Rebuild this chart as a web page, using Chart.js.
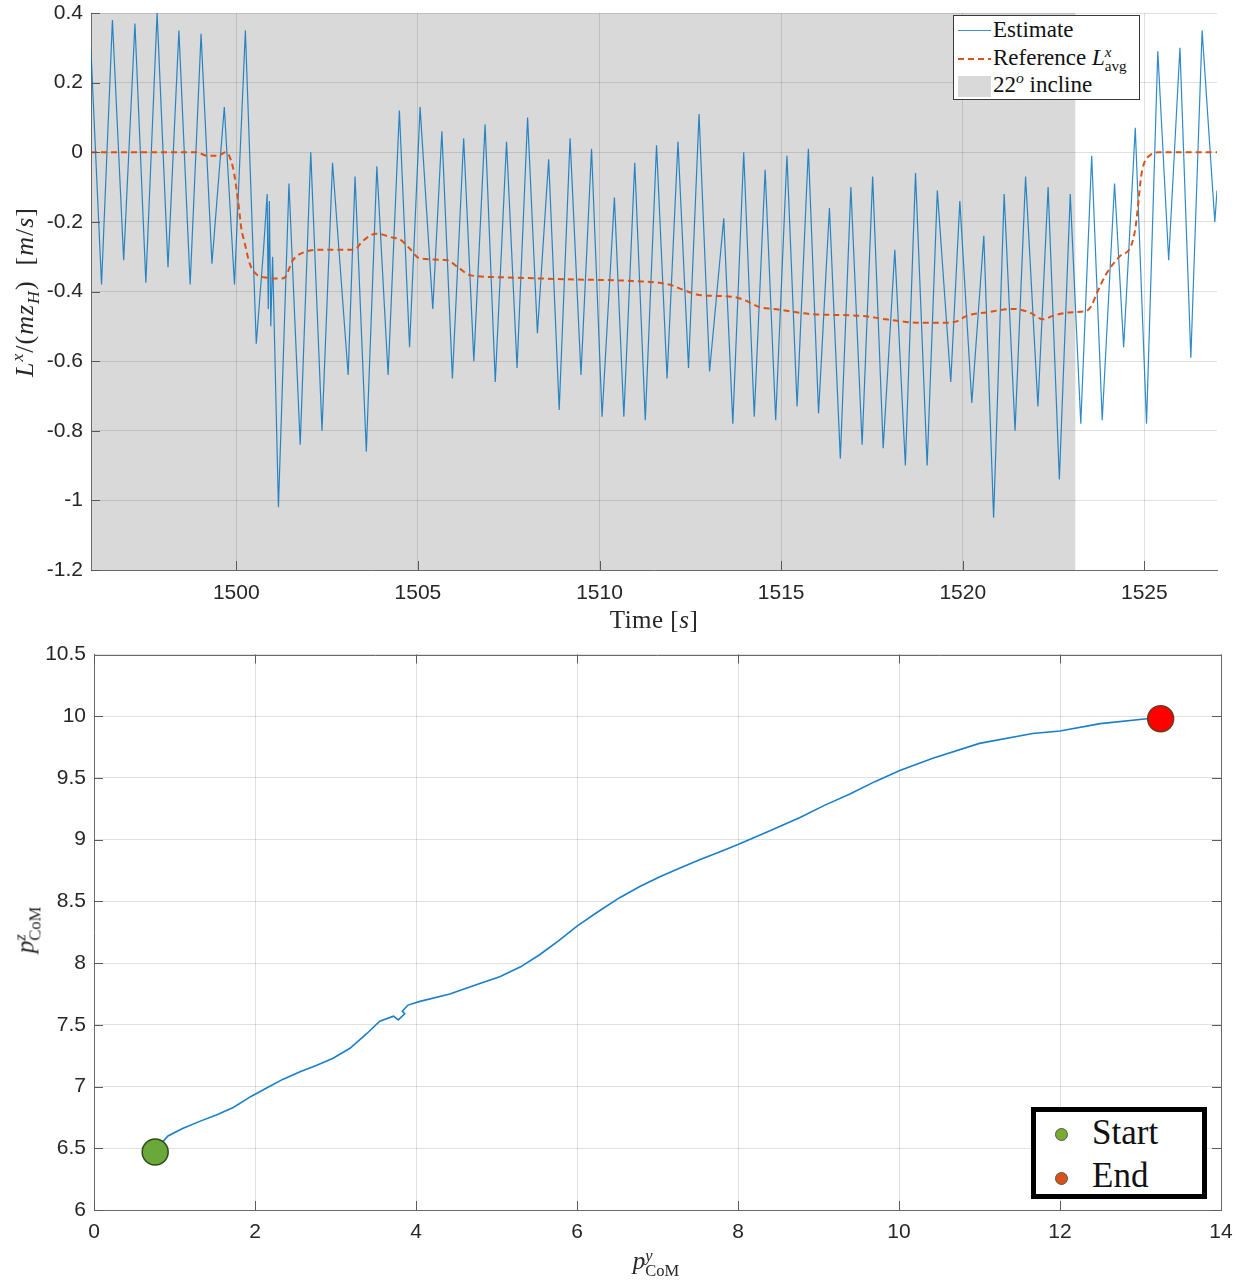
<!DOCTYPE html>
<html>
<head>
<meta charset="utf-8">
<script src="https://cdn.jsdelivr.net/npm/chart.js@4.4.1/dist/chart.umd.min.js"></script>
<style>
  body { margin: 0; background: #fff; }
  #wrap { position: relative; width: 1244px; height: 1282px; overflow: hidden; }
  canvas { position: absolute; left: 0; }
  .tx { position: absolute; font-family: "Liberation Serif", "DejaVu Serif", serif; color: #262626; white-space: nowrap; }
  .rot { transform: translate(-50%, -50%) rotate(-90deg); }
  .ctr { transform: translate(-50%, -50%); }
  sup, sub { line-height: 0; font-size: 0.68em; }
  .ss { display: inline-block; vertical-align: -0.42em; line-height: 0.92; font-size: 0.66em; }
  .ss span { display: block; }
  .leg1 { position: absolute; left: 953px; top: 15px; width: 185px; height: 83px; border: 1px solid #3a3a3a; background: #fff; }
  .leg1 .row { position: absolute; left: 0; height: 26px; line-height: 26px; font-family: "Liberation Serif", "DejaVu Serif", serif; font-size: 23px; color: #111; }
  .leg1 .row span.t { position: absolute; left: 39px; white-space: nowrap; }
  .leg2 { position: absolute; left: 1031px; top: 1107px; width: 166px; height: 82px; border: 5px solid #000; background: #fff; }
  .leg2 .dot { position: absolute; left: 19px; width: 11px; height: 11px; border-radius: 50%; border: 1px solid #555; }
  .leg2 .t { position: absolute; left: 56px; font-family: "Liberation Serif", "DejaVu Serif", serif; font-size: 35px; line-height: 40px; color: #111; }
</style>
</head>
<body>
<div id="wrap">
  <canvas id="top" width="1244" height="640" style="top:0"></canvas>
  <canvas id="bottom" width="1244" height="642" style="top:640px"></canvas>

  <div class="tx rot" style="left:25px; top:292px; font-size:26px; letter-spacing:1px;"><i>L</i><sup><i>x</i></sup>/(<i>mz</i><sub><i>H</i></sub>)&nbsp;&nbsp;[<i>m</i>/<i>s</i>]</div>
  <div class="tx ctr" style="left:654px; top:620px; font-size:25px; letter-spacing:0.5px;">Time [<i>s</i>]</div>
  <div class="tx rot" style="left:27px; top:930px; font-size:25px;"><i>p</i><span class="ss"><span><i>z</i></span><span>CoM</span></span></div>
  <div class="tx ctr" style="left:656px; top:1263px; font-size:25px;"><i>p</i><span class="ss"><span><i>y</i></span><span>CoM</span></span></div>

  <div class="leg1">
    <div class="row" style="top:1px; width:100%;">
      <span style="position:absolute; left:4px; top:13px; width:33px; height:1px; background:#3d8fd0;"></span>
      <span class="t">Estimate</span>
    </div>
    <div class="row" style="top:29px; width:100%;">
      <span style="position:absolute; left:4px; top:13px; width:33px; height:2px; background:repeating-linear-gradient(90deg,#D95319 0 6px,transparent 6px 10px);"></span>
      <span class="t">Reference <i>L</i><span class="ss"><span><i>x</i></span><span>avg</span></span></span>
    </div>
    <div class="row" style="top:56px; width:100%;">
      <span style="position:absolute; left:4px; top:4px; width:33px; height:21px; background:#d9d9d9;"></span>
      <span class="t">22<sup><i>o</i></sup> incline</span>
    </div>
  </div>

  <div class="leg2">
    <div class="dot" style="top:16px; background:#77AC30;"></div>
    <div class="t" style="top:1px;">Start</div>
    <div class="dot" style="top:60px; background:#D95319;"></div>
    <div class="t" style="top:44px;">End</div>
  </div>
</div>

<script>
// ---- top panel: angular momentum estimate vs reference ----
const timeTicks = [1500, 1505, 1510, 1515, 1520, 1525];
const lxTicks = [0.4, 0.2, 0, -0.2, -0.4, -0.6, -0.8, -1, -1.2];
const inclineSpan = [1496, 1523.1];

const estTime = [1496.00, 1496.29, 1496.59, 1496.90, 1497.21, 1497.51, 1497.82, 1498.12, 1498.42, 1498.73,
  1499.03, 1499.33, 1499.67, 1499.95, 1500.25, 1500.55, 1500.75, 1500.85, 1500.88, 1500.91,
  1500.95, 1501.00, 1501.16, 1501.45, 1501.76, 1502.05, 1502.36, 1502.65, 1503.08, 1503.27,
  1503.58, 1503.87, 1504.18, 1504.49, 1504.77, 1505.06, 1505.41, 1505.66, 1505.95, 1506.26,
  1506.54, 1506.85, 1507.13, 1507.44, 1507.73, 1508.02, 1508.29, 1508.60, 1508.89, 1509.19,
  1509.49, 1509.78, 1510.07, 1510.41, 1510.67, 1510.97, 1511.26, 1511.57, 1511.86, 1512.16,
  1512.45, 1512.74, 1513.03, 1513.42, 1513.67, 1513.97, 1514.26, 1514.56, 1514.85, 1515.16,
  1515.44, 1515.75, 1516.03, 1516.33, 1516.63, 1516.92, 1517.23, 1517.52, 1517.81, 1518.13,
  1518.42, 1518.70, 1519.02, 1519.30, 1519.67, 1519.92, 1520.25, 1520.58, 1520.85, 1521.14,
  1521.44, 1521.73, 1522.07, 1522.35, 1522.66, 1522.96, 1523.25, 1523.55, 1523.84, 1524.18,
  1524.43, 1524.75, 1525.06, 1525.37, 1525.67, 1525.98, 1526.28, 1526.59, 1526.94, 1527.00];
const estValue = [0.29, -0.38, 0.38, -0.31, 0.37, -0.375, 0.40, -0.33, 0.35, -0.38,
  0.34, -0.32, 0.13, -0.38, 0.35, -0.55, -0.28, -0.12, -0.45, -0.14,
  -0.50, -0.30, -1.02, -0.09, -0.84, 0.00, -0.80, -0.03, -0.64, -0.07,
  -0.86, -0.04, -0.64, 0.12, -0.56, 0.13, -0.45, 0.06, -0.65, 0.04,
  -0.60, 0.08, -0.66, 0.03, -0.62, 0.10, -0.52, -0.02, -0.74, 0.04,
  -0.64, 0.01, -0.76, -0.13, -0.76, -0.03, -0.77, 0.02, -0.65, 0.03,
  -0.62, 0.11, -0.63, -0.19, -0.78, 0.00, -0.76, -0.05, -0.77, -0.01,
  -0.73, 0.01, -0.75, -0.16, -0.88, -0.10, -0.84, -0.07, -0.85, -0.28,
  -0.90, -0.06, -0.90, -0.11, -0.66, -0.14, -0.72, -0.24, -1.05, -0.12,
  -0.80, -0.07, -0.73, -0.10, -0.94, -0.12, -0.78, -0.01, -0.77, -0.09,
  -0.56, 0.07, -0.78, 0.29, -0.31, 0.30, -0.59, 0.35, -0.20, -0.11];

const refTime = [1496.0, 1498.9, 1499.2, 1499.5, 1499.7, 1499.9, 1500.05, 1500.14, 1500.23, 1500.37,
  1500.55, 1500.82, 1501.19, 1501.33, 1501.56, 1501.92, 1502.29, 1502.84, 1503.25, 1503.48,
  1503.85, 1504.3, 1504.5, 1504.76, 1505.05, 1505.8, 1506.1, 1506.43, 1507.25, 1509.1,
  1510.9, 1511.92, 1512.3, 1512.75, 1513.65, 1514.0, 1514.4, 1514.8, 1515.85, 1517.2,
  1517.9, 1518.8, 1519.55, 1519.85, 1520.1, 1520.65, 1521.38, 1521.84, 1522.21, 1522.48,
  1522.94, 1523.4, 1523.55, 1523.67, 1523.95, 1524.31, 1524.63, 1524.75, 1524.82, 1524.91,
  1525.0, 1525.14, 1525.41, 1527.0];
const refValue = [0, 0, -0.01, -0.01, 0, -0.04, -0.14, -0.22, -0.26, -0.32,
  -0.35, -0.36, -0.363, -0.36, -0.31, -0.285, -0.28, -0.28, -0.28, -0.255,
  -0.234, -0.245, -0.25, -0.275, -0.305, -0.31, -0.33, -0.353, -0.359, -0.365,
  -0.37, -0.38, -0.395, -0.41, -0.415, -0.425, -0.445, -0.45, -0.465, -0.47,
  -0.48, -0.49, -0.49, -0.485, -0.47, -0.46, -0.45, -0.46, -0.48, -0.47,
  -0.46, -0.456, -0.44, -0.41, -0.35, -0.30, -0.27, -0.22, -0.16, -0.07,
  -0.03, -0.01, 0, 0];

// ---- bottom panel: CoM path ----
const comTicksY = [0, 2, 4, 6, 8, 10, 12, 14];
const comTicksZ = [6, 6.5, 7, 7.5, 8, 8.5, 9, 9.5, 10, 10.5];
const comY = [0.85, 0.92, 1.10, 1.32, 1.52, 1.73, 1.95, 2.15, 2.35, 2.56,
  2.76, 2.97, 3.18, 3.39, 3.55, 3.72, 3.78, 3.86, 3.83, 3.90,
  4.05, 4.42, 4.73, 5.04, 5.30, 5.54, 5.77, 6.00, 6.27, 6.53,
  6.78, 7.03, 7.28, 7.53, 7.77, 8.00, 8.39, 8.77, 9.08, 9.39,
  9.70, 10.01, 10.42, 11.00, 11.66, 12.00, 12.50, 13.08, 13.20];
const comZ = [6.55, 6.60, 6.66, 6.72, 6.77, 6.83, 6.92, 6.99, 7.06, 7.12,
  7.17, 7.23, 7.31, 7.43, 7.53, 7.57, 7.54, 7.59, 7.61, 7.66,
  7.69, 7.75, 7.82, 7.89, 7.97, 8.07, 8.18, 8.30, 8.42, 8.53,
  8.62, 8.70, 8.77, 8.84, 8.90, 8.96, 9.07, 9.18, 9.28, 9.37,
  9.47, 9.56, 9.66, 9.78, 9.86, 9.88, 9.94, 9.98, 9.98];
const startPoint = [0.76, 6.47];
const endPoint = [13.25, 9.98];

const tickFont = { family: '"Liberation Sans", Arial, sans-serif', size: 21, lineHeight: 1 };
const gridColor = 'rgba(38,38,38,0.14)';
const pts = (xs, ys) => xs.map((x, i) => ({ x: x, y: ys[i] }));

// shading under the grid + inward MATLAB-style ticks
const axisDecor = {
  id: 'axisDecor',
  beforeDraw(chart, args, opts) {
    if (!opts.shade) return;
    const { ctx, chartArea: a, scales: { x } } = chart;
    const x0 = Math.max(x.getPixelForValue(opts.shade[0]), a.left);
    const x1 = Math.min(x.getPixelForValue(opts.shade[1]), a.right);
    ctx.save();
    ctx.fillStyle = '#d9d9d9';
    ctx.fillRect(x0, a.top, x1 - x0, a.bottom - a.top);
    ctx.restore();
  },
  afterDraw(chart, args, opts) {
    const { ctx, chartArea: a, scales: { x, y } } = chart;
    const L = 9;
    ctx.save();
    ctx.strokeStyle = '#5a5a5a';
    ctx.lineWidth = 1;
    ctx.beginPath();
    x.ticks.forEach(t => {
      const p = Math.round(x.getPixelForValue(t.value)) + 0.5;
      ctx.moveTo(p, a.bottom); ctx.lineTo(p, a.bottom - L);
      if (opts.box) { ctx.moveTo(p, a.top); ctx.lineTo(p, a.top + L); }
    });
    y.ticks.forEach(t => {
      const p = Math.round(y.getPixelForValue(t.value)) + 0.5;
      ctx.moveTo(a.left, p); ctx.lineTo(a.left + L, p);
      if (opts.box) { ctx.moveTo(a.right, p); ctx.lineTo(a.right - L, p); }
    });
    ctx.stroke();
    if (opts.box) {
      ctx.strokeStyle = '#6a6a6a';
      ctx.beginPath();
      ctx.moveTo(a.left, Math.round(a.top) + 0.5); ctx.lineTo(a.right, Math.round(a.top) + 0.5);
      ctx.moveTo(Math.round(a.right) + 0.5, a.top); ctx.lineTo(Math.round(a.right) + 0.5, a.bottom);
      ctx.stroke();
    }
    ctx.restore();
  }
};

function axis(min, max, tickList, size, pad) {
  return {
    type: 'linear', min: min, max: max,
    afterBuildTicks: s => { s.ticks = tickList.map(v => ({ value: v })); },
    afterFit: s => {
      if (s.isHorizontal()) s.height = size; else s.width = size;
      // keep the plot area fixed, labels may overflow into the margins
      s.paddingTop = 0; s.paddingBottom = 0; s.paddingLeft = 0; s.paddingRight = 0;
    },
    grid: { color: gridColor, drawTicks: false },
    border: { color: '#6a6a6a', width: 1 },
    ticks: { padding: pad, color: '#262626', font: tickFont, callback: v => String(v) }
  };
}

new Chart(document.getElementById('top'), {
  type: 'line',
  data: {
    datasets: [
      {
        label: 'Reference',
        data: pts(refTime, refValue),
        borderColor: '#D95319',
        borderWidth: 2,
        borderDash: [6, 4],
        pointRadius: 0,
        cubicInterpolationMode: 'monotone',
        order: 0
      },
      {
        label: 'Estimate',
        data: pts(estTime, estValue),
        borderColor: 'rgba(0,114,189,0.82)',
        borderWidth: 1.2,
        pointRadius: 0,
        tension: 0,
        order: 1
      }
    ]
  },
  options: {
    responsive: false,
    animation: false,
    layout: { padding: { left: 0, top: 13, right: 27, bottom: 0 } },
    scales: {
      x: axis(1496, 1527, timeTicks, 70, 13),
      y: axis(-1.2, 0.4, lxTicks, 91, 8)
    },
    plugins: {
      legend: { display: false },
      tooltip: { enabled: false },
      axisDecor: { shade: inclineSpan, box: false }
    }
  },
  plugins: [axisDecor]
});

new Chart(document.getElementById('bottom'), {
  type: 'line',
  data: {
    datasets: [
      {
        label: 'Start',
        data: [{ x: startPoint[0], y: startPoint[1] }],
        showLine: false,
        pointRadius: 13,
        pointBackgroundColor: '#6aa83a',
        pointBorderColor: '#2f4a1c',
        pointBorderWidth: 1.5,
        order: 0
      },
      {
        label: 'End',
        data: [{ x: endPoint[0], y: endPoint[1] }],
        showLine: false,
        pointRadius: 13,
        pointBackgroundColor: '#ff0000',
        pointBorderColor: '#6e3b1a',
        pointBorderWidth: 1.5,
        order: 1
      },
      {
        label: 'CoM',
        data: pts(comY, comZ),
        borderColor: '#1a7fc8',
        borderWidth: 1.6,
        pointRadius: 0,
        tension: 0,
        order: 2
      }
    ]
  },
  options: {
    responsive: false,
    animation: false,
    layout: { padding: { left: 0, top: 12, right: 23, bottom: 0 } },
    scales: {
      x: axis(0, 14, comTicksY, 72, 12),
      y: axis(6, 10.5, comTicksZ, 94, 8)
    },
    plugins: {
      legend: { display: false },
      tooltip: { enabled: false },
      axisDecor: { box: true }
    }
  },
  plugins: [axisDecor]
});
</script>
</body>
</html>
